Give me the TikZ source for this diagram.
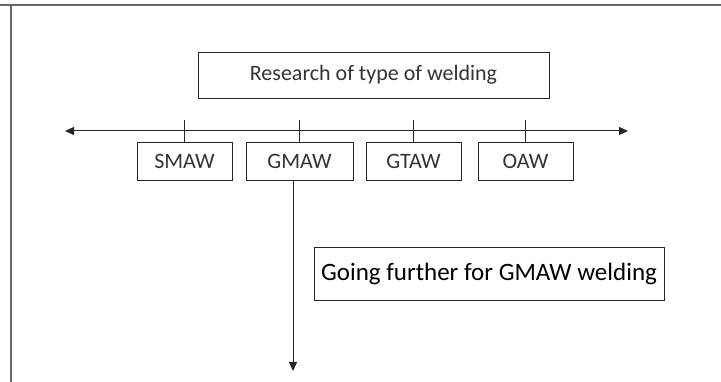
\documentclass[tikz,border=0pt]{standalone}
\usepackage{fontspec}
\setmainfont{Carlito}
\usetikzlibrary{arrows.meta}
\tikzset{
  box/.style={draw=black!85, line width=0.9pt, inner sep=0pt, text=black!80},
  conn/.style={draw=black!85, line width=1pt},
  tip/.style={-{Triangle[length=9pt,width=8pt]}}
}
\begin{document}
\begin{tikzpicture}[x=1pt,y=-1pt]
\useasboundingbox (0,0) rectangle (721,382);
% frame
\draw[black!60, line width=1.6pt] (0,5) -- (721,5);
\draw[black!60, line width=1.6pt] (11,5) -- (11,382);
% nodes
\node[box, minimum width=351pt, minimum height=46pt, font=\fontsize{22}{26}\selectfont] (res) at (373.5,75) {Research of type of welding};
\node[box, minimum width=95pt, minimum height=38pt, font=\fontsize{22}{26}\selectfont] (smaw) at (184.5,161) {SMAW};
\node[box, minimum width=107pt, minimum height=38pt, font=\fontsize{22}{26}\selectfont] (gmaw) at (299.5,161) {GMAW};
\node[box, minimum width=95pt, minimum height=38pt, font=\fontsize{22}{26}\selectfont] (gtaw) at (413.5,161) {GTAW};
\node[box, minimum width=95pt, minimum height=38pt, font=\fontsize{22}{26}\selectfont] (oaw) at (525.5,161) {OAW};
\node[box, minimum width=350pt, minimum height=53pt, font=\fontsize{25}{30}\selectfont, text=black] (go) at (489,273.5) {Going further for GMAW welding};
% coordinates
\coordinate (L) at (65,131);
\coordinate (R) at (628,131);
\coordinate (t1) at (smaw.north |- 0,120);
\coordinate (t2) at (gmaw.north |- 0,120);
\coordinate (t3) at (gtaw.north |- 0,120);
\coordinate (t4) at (oaw.north |- 0,120);
\coordinate (gs) at (293,180);
\coordinate (ge) at (293,371);
% connectors
\draw[conn, {Triangle[length=9pt,width=8pt]}-{Triangle[length=9pt,width=8pt]}] (L) -- (R);
\draw[conn] (t1) -- (smaw.north);
\draw[conn] (t2) -- (gmaw.north);
\draw[conn] (t3) -- (gtaw.north);
\draw[conn] (t4) -- (oaw.north);
\draw[conn, tip] (gs) -- (ge);
\end{tikzpicture}
\end{document}
